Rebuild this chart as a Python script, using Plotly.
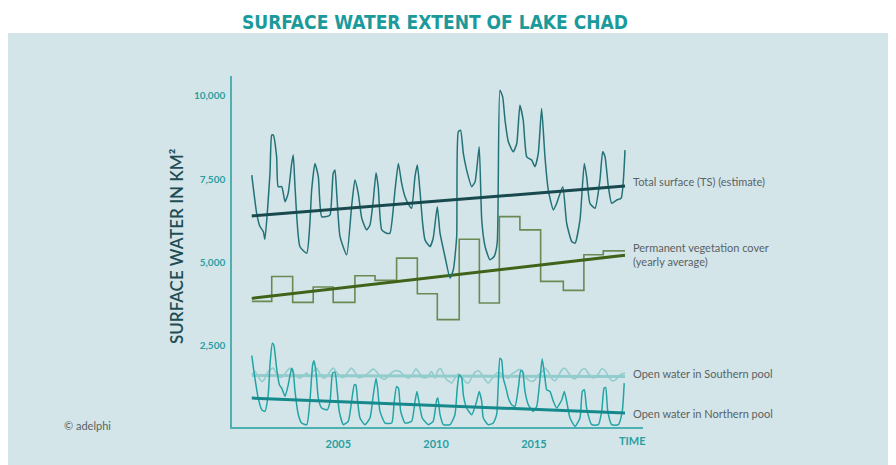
import plotly.graph_objects as go

# ---------------- data ----------------
ts_years = [2000.58, 2000.83, 2001.00, 2001.17, 2001.25, 2001.51, 2001.60, 2001.68, 2001.85, 2001.93,
            2002.11, 2002.28, 2002.44, 2002.62, 2002.70, 2002.79, 2003.04, 2003.39, 2003.55, 2003.64,
            2003.81, 2003.98, 2004.15, 2004.41, 2004.58, 2004.74, 2004.83, 2004.92, 2005.09, 2005.43,
            2005.68, 2005.85, 2006.02, 2006.20, 2006.45, 2006.62, 2006.79, 2006.93, 2007.04, 2007.22,
            2007.47, 2007.64, 2007.90, 2008.07, 2008.24, 2008.41, 2008.66, 2008.75, 2008.92, 2009.04,
            2009.17, 2009.31, 2009.43, 2009.60, 2009.69, 2009.85, 2010.06, 2010.20, 2010.45, 2010.71,
            2010.88, 2011.05, 2011.13, 2011.25, 2011.39, 2011.56, 2011.82, 2011.99, 2012.20, 2012.33,
            2012.50, 2012.75, 2012.96, 2013.12, 2013.26, 2013.40, 2013.52, 2013.69, 2013.94, 2014.12,
            2014.28, 2014.45, 2014.63, 2014.88, 2015.05, 2015.22, 2015.39, 2015.56, 2015.73, 2015.99,
            2016.16, 2016.47, 2016.67, 2016.93, 2017.10, 2017.35, 2017.57, 2017.69, 2017.86, 2018.12,
            2018.37, 2018.51, 2018.63, 2018.80, 2018.97, 2019.23, 2019.45, 2019.65]
ts_values = [7620, 6470, 6070, 5920, 5690, 7670, 8820, 8820, 8170, 7270,
             7270, 6820, 7070, 7970, 8220, 7270, 5470, 5270, 6170, 7170,
             7970, 7570, 6370, 6370, 6420, 7670, 7770, 7070, 5770, 5220,
             6670, 7470, 7070, 6320, 5970, 6120, 6870, 7690, 7270, 5970,
             5870, 5870, 7170, 7970, 7370, 6970, 6670, 6620, 7570, 7920,
             7170, 6170, 5670, 5520, 5470, 5720, 6670, 5870, 5170, 4520,
             4770, 5770, 8920, 8970, 8270, 7770, 7270, 7420, 8470, 6270,
             5470, 5070, 5170, 5570, 10170, 9970, 9270, 8620, 8320, 8570,
             9720, 9270, 8170, 8070, 7870, 8270, 9620, 8170, 7170, 6570,
             6770, 7270, 6170, 5620, 5570, 6270, 7970, 7570, 6770, 6620,
             7470, 8320, 8170, 7270, 6770, 6870, 6920, 8370]

veg_years = [2000.58, 2001.60, 2002.67, 2003.72, 2004.74, 2005.85, 2006.88, 2007.98, 2009.04, 2010.06,
             2011.18, 2012.21, 2013.23, 2014.28, 2015.34, 2016.50, 2017.55, 2018.54, 2019.65]
veg_values = [3820, 4570, 3790, 4250, 3790, 4590, 4450, 5120, 4050, 3270,
              5690, 3770, 6370, 5970, 4420, 4150, 5220, 5340, 5340]

north_years = [2000.58, 2000.74, 2000.91, 2001.09, 2001.25, 2001.42, 2001.51, 2001.63, 2001.71, 2001.85,
               2001.99, 2002.11, 2002.28, 2002.44, 2002.62, 2002.70, 2002.79, 2002.96, 2003.13, 2003.39,
               2003.55, 2003.69, 2003.76, 2003.86, 2003.98, 2004.15, 2004.44, 2004.58, 2004.71, 2004.83,
               2004.95, 2005.05, 2005.26, 2005.51, 2005.68, 2005.82, 2005.90, 2005.99, 2006.11, 2006.36,
               2006.62, 2006.79, 2006.93, 2007.01, 2007.13, 2007.39, 2007.73, 2007.86, 2007.98, 2008.08,
               2008.19, 2008.41, 2008.75, 2008.92, 2009.02, 2009.12, 2009.29, 2009.60, 2009.85, 2010.03,
               2010.09, 2010.20, 2010.37, 2010.71, 2010.96, 2011.08, 2011.18, 2011.31, 2011.39, 2011.56,
               2011.82, 2012.07, 2012.20, 2012.33, 2012.41, 2012.66, 2012.92, 2013.09, 2013.18, 2013.26,
               2013.35, 2013.43, 2013.57, 2013.69, 2013.86, 2014.03, 2014.20, 2014.32, 2014.42, 2014.54,
               2014.71, 2014.96, 2015.14, 2015.31, 2015.42, 2015.56, 2015.65, 2015.82, 2015.99, 2016.16,
               2016.42, 2016.55, 2016.67, 2016.84, 2017.10, 2017.35, 2017.47, 2017.57, 2017.69, 2017.95,
               2018.29, 2018.46, 2018.58, 2018.66, 2018.77, 2018.97, 2019.31, 2019.51, 2019.61]
north_values = [2190, 1510, 910, 560, 510, 1010, 1910, 2560, 2500, 1810,
                1310, 1210, 960, 1300, 1810, 1700, 1110, 410, 160, 110,
                810, 1910, 2030, 1710, 910, 610, 560, 810, 1660, 1690,
                1110, 510, 110, 210, 810, 1310, 1300, 810, 310, 110,
                310, 1010, 1510, 1210, 510, 160, 160, 810, 1260, 1200,
                510, 160, 210, 810, 1110, 810, 310, 110, 210, 860,
                910, 410, 110, 110, 410, 1210, 1610, 1510, 1010, 610,
                410, 810, 1110, 810, 310, 110, 160, 410, 1410, 2110,
                2050, 1510, 1210, 910, 710, 660, 1210, 1730, 1710, 1110,
                710, 510, 660, 1510, 2090, 1510, 1160, 1110, 810, 610,
                860, 1110, 810, 310, 60, 310, 1110, 1160, 610, 110,
                110, 510, 1210, 1230, 510, 110, 110, 510, 1360]

south_years = [2000.58, 2000.74, 2000.91, 2001.09, 2001.20, 2001.34, 2001.51, 2001.68, 2001.85, 2002.02,
               2002.19, 2002.36, 2002.53, 2002.70, 2002.87, 2003.04, 2003.21, 2003.39, 2003.55, 2003.72,
               2003.90, 2004.06, 2004.23, 2004.41, 2004.58, 2004.74, 2004.92, 2005.17, 2005.34, 2005.51,
               2005.68, 2005.85, 2006.02, 2006.28, 2006.53, 2006.79, 2006.96, 2007.21, 2007.39, 2007.64,
               2007.90, 2008.15, 2008.32, 2008.58, 2008.78, 2008.96, 2009.12, 2009.29, 2009.52, 2009.77,
               2009.94, 2010.11, 2010.23, 2010.37, 2010.54, 2010.67, 2010.79, 2010.96, 2011.13, 2011.31,
               2011.47, 2011.64, 2011.82, 2011.99, 2012.15, 2012.33, 2012.50, 2012.66, 2012.84, 2013.01,
               2013.18, 2013.35, 2013.52, 2013.69, 2013.86, 2014.03, 2014.20, 2014.37, 2014.54, 2014.71,
               2014.88, 2015.05, 2015.22, 2015.39, 2015.56, 2015.73, 2015.90, 2016.07, 2016.24, 2016.42,
               2016.58, 2016.75, 2016.93, 2017.10, 2017.27, 2017.44, 2017.61, 2017.78, 2017.95, 2018.12,
               2018.29, 2018.46, 2018.63, 2018.80, 2019.00, 2019.17, 2019.39, 2019.65]
south_values = [1610, 1710, 1560, 1410, 1450, 1630, 1760, 1810, 1640, 1530,
                1580, 1710, 1810, 1640, 1560, 1510, 1590, 1660, 1560, 1710,
                1810, 1640, 1510, 1560, 1710, 1810, 1680, 1530, 1560, 1710,
                1810, 1690, 1530, 1560, 1660, 1790, 1700, 1510, 1480, 1630,
                1730, 1710, 1610, 1510, 1610, 1790, 1690, 1530, 1530, 1710,
                1510, 1760, 1790, 1640, 1460, 1410, 1360, 1510, 1630, 1560,
                1410, 1360, 1530, 1690, 1730, 1630, 1460, 1360, 1490, 1610,
                1690, 1630, 1560, 1510, 1630, 1690, 1760, 1760, 1560, 1460,
                1410, 1460, 1610, 1690, 1810, 1700, 1510, 1430, 1560, 1760,
                1810, 1680, 1530, 1490, 1610, 1760, 1790, 1650, 1530, 1530,
                1640, 1790, 1740, 1560, 1430, 1460, 1610, 1660]

trend_years = [2000.58, 2019.65]
ts_trend = [6390, 7290]
veg_trend = [3910, 5210]
north_trend = [910, 460]
south_trend = [1590, 1560]

y_ticks = [2500, 5000, 7500, 10000]
y_tick_labels = ["2,500", "5,000", "7,500", "10,000"]
x_ticks = [2005, 2010, 2015]
x_tick_labels = ["2005", "2010", "2015"]

labels = {
    "ts": "Total surface (TS) (estimate)",
    "veg": "Permanent vegetation cover<br>(yearly average)",
    "south": "Open water in Southern pool",
    "north": "Open water in Northern pool",
}

# ---------------- styling ----------------
PANEL = "#d3e5e9"
TEAL = "#2a9fa1"
GREY = "#5a6264"
OFF = 8  # page body margin of the html page
W, H = 896 - OFF, 465 - OFF
L, T = 232 - OFF, 76 - OFF
R = W - (643 - OFF)
B = H - (427 - OFF)
PW, PH = W - L - R, H - T - B


def px_x(px):
    return (px - OFF - L) / PW


def px_y(py):
    return (H - B - (py - OFF)) / PH


fig = go.Figure()

fig.add_trace(go.Scatter(x=south_years, y=south_values, mode="lines",
                         line=dict(color="#93cccd", width=1.6, shape="spline", smoothing=0.6),
                         hoverinfo="skip"))
fig.add_trace(go.Scatter(x=trend_years, y=south_trend, mode="lines",
                         line=dict(color="#93cccd", width=3), hoverinfo="skip"))
fig.add_trace(go.Scatter(x=north_years, y=north_values, mode="lines",
                         line=dict(color="#22a4a5", width=1.5, shape="spline", smoothing=0.5),
                         hoverinfo="skip"))
fig.add_trace(go.Scatter(x=trend_years, y=north_trend, mode="lines",
                         line=dict(color="#16898c", width=3), hoverinfo="skip"))
fig.add_trace(go.Scatter(x=veg_years, y=veg_values, mode="lines",
                         line=dict(color="#6a8a54", width=1.6, shape="hv"), hoverinfo="skip"))
fig.add_trace(go.Scatter(x=trend_years, y=veg_trend, mode="lines",
                         line=dict(color="#3f6419", width=3), hoverinfo="skip"))
fig.add_trace(go.Scatter(x=ts_years, y=ts_values, mode="lines",
                         line=dict(color="#237277", width=1.5, shape="spline", smoothing=0.5),
                         hoverinfo="skip"))
fig.add_trace(go.Scatter(x=trend_years, y=ts_trend, mode="lines",
                         line=dict(color="#17494e", width=3), hoverinfo="skip"))

fig.update_layout(
    width=W, height=H,
    margin=dict(l=L, r=R, t=T, b=B, pad=0),
    paper_bgcolor="white",
    plot_bgcolor="rgba(0,0,0,0)",
    showlegend=False,
    xaxis=dict(range=[1999.57, 2020.57], tickvals=x_ticks, ticktext=x_tick_labels,
               showgrid=False, zeroline=False, showline=True, linecolor="#4fb0b2", linewidth=1.5,
               ticks="", ticklabelstandoff=6,
               tickfont=dict(family="Lato, Noto Sans, sans-serif", size=11, color=TEAL, weight="bold")),
    yaxis=dict(range=[40, 10600], tickvals=y_ticks, ticktext=y_tick_labels,
               showgrid=False, zeroline=False, showline=True, linecolor="#4fb0b2", linewidth=1.5,
               ticks="", ticklabelstandoff=3,
               tickfont=dict(family="Lato, Noto Sans, sans-serif", size=10, color=TEAL, weight="bold")),
    shapes=[dict(type="rect", xref="paper", yref="paper", layer="below",
                 x0=px_x(8), x1=px_x(900), y0=px_y(470), y1=px_y(33),
                 fillcolor=PANEL, line=dict(width=0))],
)

ann = []
ann.append(dict(text="<b>SURFACE WATER EXTENT OF LAKE CHAD</b>", x=px_x(435), y=px_y(22),
                xref="paper", yref="paper", showarrow=False, xanchor="center", yanchor="middle",
                font=dict(family="Liberation Sans Narrow, DejaVu Sans Condensed, sans-serif",
                          size=19, color="#1b9a9c")))
ann.append(dict(text="SURFACE WATER IN KM²", x=px_x(176), y=px_y(246), textangle=-90,
                xref="paper", yref="paper", showarrow=False, xanchor="center", yanchor="middle",
                font=dict(family="Lato, Noto Sans, sans-serif", size=17, color="#1e4d54", weight=600)))
ann.append(dict(text="© adelphi", x=px_x(62), y=px_y(425), xref="paper", yref="paper",
                showarrow=False, xanchor="left", yanchor="middle",
                font=dict(family="Lato, Noto Sans, sans-serif", size=11, color=GREY)))
ann.append(dict(text="TIME", x=px_x(632), y=px_y(440), xref="paper", yref="paper",
                showarrow=False, xanchor="center", yanchor="middle",
                font=dict(family="Lato, Noto Sans, sans-serif", size=11, color=TEAL, weight="bold")))

label_font = dict(family="Lato, Noto Sans, sans-serif", size=11, color=GREY)
for key, py in [("ts", 181), ("veg", 254), ("south", 373), ("north", 413)]:
    ann.append(dict(text=labels[key], x=px_x(631), y=px_y(py), xref="paper", yref="paper",
                    showarrow=False, xanchor="left", yanchor="middle", align="left",
                    font=label_font))
fig.update_layout(annotations=ann)

fig.write_html("out.html")
